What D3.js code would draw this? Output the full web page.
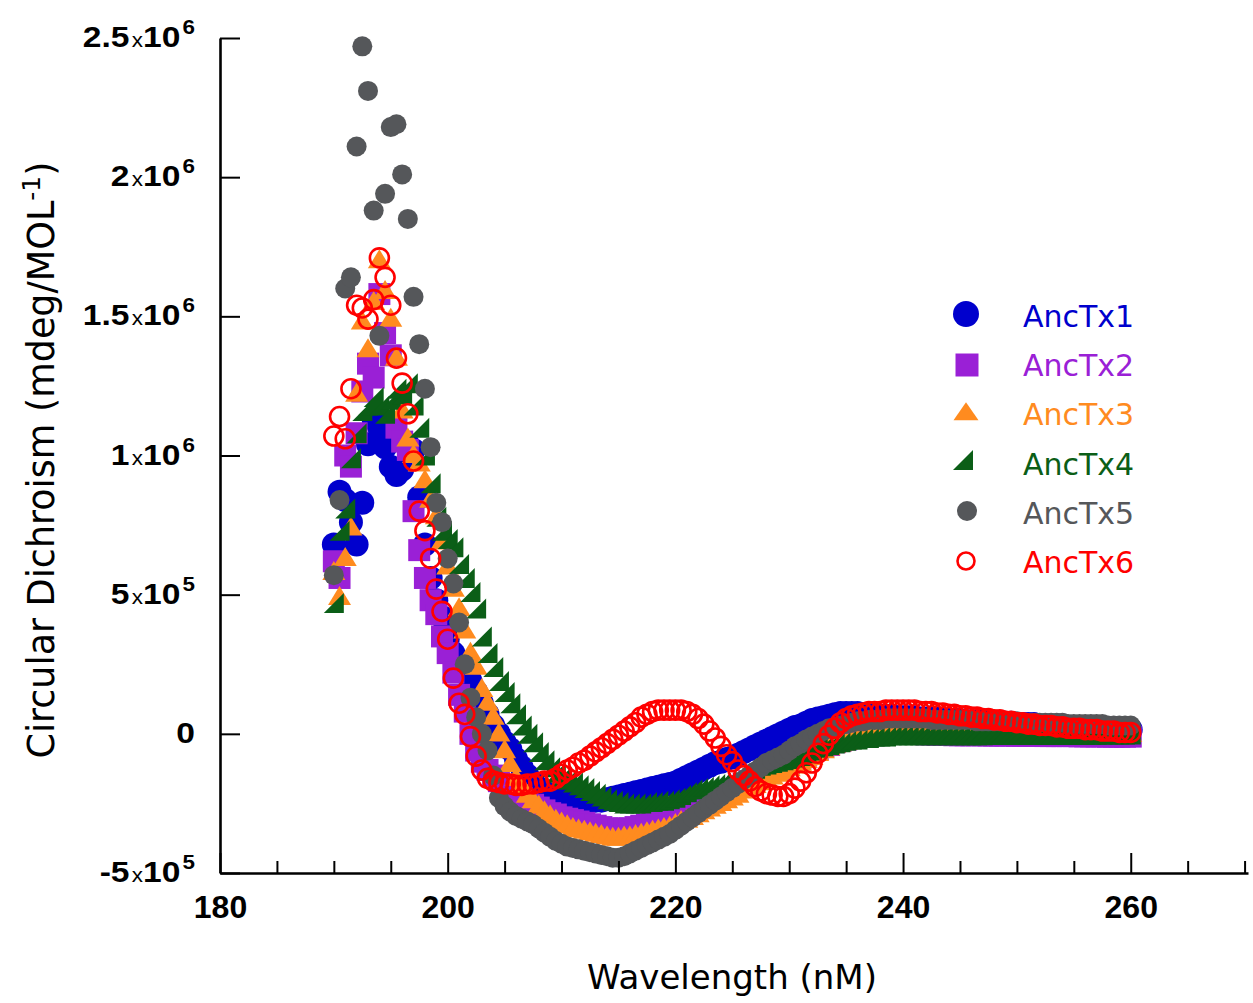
<!DOCTYPE html>
<html><head><meta charset="utf-8">
<script src="https://cdn.jsdelivr.net/npm/d3@7"></script>
<style>html,body{margin:0;padding:0;background:#fff;} svg{display:block;}</style>
</head><body>
<svg id="chart" width="1253" height="1003"></svg>
<script>
// Wavelength grid (nm)
const wavelengths = [
 190,190.5,191,191.5,192,192.5,193,193.5,194,194.5,
 195,195.5,196,196.5,197,197.5,198,198.5,199,199.5,
 200,200.5,201,201.5,202,202.5,203,203.5,204,204.5,
 205,205.5,206,206.5,207,207.5,208,208.5,209,209.5,
 210,210.5,211,211.5,212,212.5,213,213.5,214,214.5,
 215,215.5,216,216.5,217,217.5,218,218.5,219,219.5,
 220,220.5,221,221.5,222,222.5,223,223.5,224,224.5,
 225,225.5,226,226.5,227,227.5,228,228.5,229,229.5,
 230,230.5,231,231.5,232,232.5,233,233.5,234,234.5,
 235,235.5,236,236.5,237,237.5,238,238.5,239,239.5,
 240,240.5,241,241.5,242,242.5,243,243.5,244,244.5,
 245,245.5,246,246.5,247,247.5,248,248.5,249,249.5,
 250,250.5,251,251.5,252,252.5,253,253.5,254,254.5,
 255,255.5,256,256.5,257,257.5,258,258.5,259,259.5,
 260];

// Circular dichroism values, in units of 1e5 mdeg/MOL^-1
const ancTx1 = [
 6.8, 8.7, 8.4, 7.6, 6.8, 8.3, 10.4, 11.3, 11.0, 10.3,
 9.6, 9.3, 9.5, 10.4, 10.2, 8.5, 6.8, 5.6, 4.8, 4.2,
 3.4, 2.9, 2.6, 2.3, 1.9, 1.5, 1.1, 0.7, 0.3, 0.0,
 -0.3, -0.55, -0.9, -1.2, -1.5, -1.75, -1.95, -2.1, -2.2, -2.25,
 -2.3, -2.3, -2.35, -2.35, -2.4, -2.4, -2.4, -2.4, -2.35, -2.3,
 -2.25, -2.2, -2.15, -2.1, -2.05, -2.0, -1.95, -1.9, -1.85, -1.8,
 -1.75, -1.65, -1.55, -1.45, -1.35, -1.25, -1.15, -1.05, -1.0, -0.9,
 -0.85, -0.75, -0.65, -0.55, -0.45, -0.35, -0.25, -0.15, -0.05, 0.05,
 0.15, 0.25, 0.3, 0.4, 0.5, 0.55, 0.6, 0.65, 0.7, 0.75,
 0.75, 0.75, 0.75, 0.7, 0.7, 0.7, 0.65, 0.65, 0.65, 0.6,
 0.6, 0.6, 0.6, 0.55, 0.55, 0.55, 0.55, 0.5, 0.5, 0.5,
 0.5, 0.45, 0.45, 0.45, 0.45, 0.4, 0.4, 0.4, 0.4, 0.4,
 0.35, 0.35, 0.35, 0.35, 0.3, 0.3, 0.3, 0.3, 0.3, 0.25,
 0.25, 0.25, 0.25, 0.2, 0.2, 0.2, 0.2, 0.2, 0.15, 0.15,
 0.15];

const ancTx2 = [
 6.2, 5.6, 10.0, 9.6, 10.8, 12.3, 13.3, 12.8, 15.8, 14.4,
 13.6, 11.0, 10.5, 10.2, 8.0, 6.6, 5.6, 4.8, 4.3, 3.5,
 2.9, 2.2, 1.4, 0.8, 0.0, -0.6, -1.0, -1.3, -1.5, -1.7,
 -1.85, -2.0, -2.15, -2.3, -2.45, -2.55, -2.65, -2.75, -2.85, -2.9,
 -3.0, -3.05, -3.1, -3.15, -3.2, -3.25, -3.3, -3.35, -3.4, -3.4,
 -3.45, -3.4, -3.4, -3.35, -3.3, -3.25, -3.2, -3.1, -3.0, -2.95,
 -2.85, -2.75, -2.7, -2.6, -2.5, -2.4, -2.3, -2.2, -2.15, -2.05,
 -2.0, -1.9, -1.8, -1.7, -1.6, -1.5, -1.4, -1.3, -1.25, -1.15,
 -1.05, -0.95, -0.85, -0.75, -0.65, -0.55, -0.45, -0.4, -0.3, -0.25,
 -0.2, -0.15, -0.1, -0.08, -0.05, -0.05, -0.03, 0.0, 0.0, 0.0,
 0.0, 0.0, 0.0, 0.0, -0.02, -0.02, -0.03, -0.03, -0.03, -0.05,
 -0.05, -0.05, -0.05, -0.05, -0.05, -0.06, -0.06, -0.06, -0.06, -0.06,
 -0.07, -0.07, -0.07, -0.07, -0.07, -0.08, -0.08, -0.08, -0.08, -0.08,
 -0.08, -0.09, -0.09, -0.09, -0.09, -0.09, -0.1, -0.1, -0.1, -0.1,
 -0.1];

const ancTx3 = [
 5.8, 4.9, 6.3, 7.4, 12.2, 14.8, 13.8, 15.5, 17.0, 15.9,
 14.9, 13.5, 11.6, 10.6, 10.0, 9.7, 9.1, 8.4, 7.8, 6.9,
 6.0, 5.2, 4.5, 3.7, 2.9, 2.4, 1.6, 1.1, 0.6, 0.0,
 -0.6, -1.1, -1.6, -1.9, -2.2, -2.4, -2.6, -2.8, -2.95, -3.1,
 -3.2, -3.3, -3.4, -3.45, -3.5, -3.55, -3.6, -3.65, -3.7, -3.75,
 -3.75, -3.7, -3.7, -3.65, -3.6, -3.55, -3.5, -3.45, -3.4, -3.35,
 -3.25, -3.15, -3.1, -3.0, -2.9, -2.8, -2.7, -2.6, -2.5, -2.4,
 -2.3, -2.2, -2.05, -1.95, -1.85, -1.75, -1.65, -1.55, -1.45, -1.35,
 -1.25, -1.15, -1.05, -0.95, -0.85, -0.7, -0.6, -0.5, -0.4, -0.35,
 -0.3, -0.25, -0.2, -0.15, -0.1, -0.05, 0.0, 0.0, 0.02, 0.04,
 0.05, 0.05, 0.05, 0.05, 0.05, 0.05, 0.04, 0.04, 0.04, 0.04,
 0.03, 0.03, 0.03, 0.03, 0.03, 0.02, 0.02, 0.02, 0.02, 0.02,
 0.02, 0.01, 0.01, 0.01, 0.01, 0.01, 0.0, 0.0, 0.0, 0.0,
 0.0, 0.0, -0.01, -0.01, -0.01, -0.01, -0.02, -0.02, -0.02, -0.02,
 -0.02];

const ancTx4 = [
 4.7, 7.3, 8.1, 9.9, 10.8, 11.6, 11.8, 12.1, 11.8, 11.5,
 12.0, 12.4, 12.2, 12.6, 11.8, 11.0, 10.0, 9.0, 7.8, 7.3,
 7.0, 6.7, 6.1, 5.6, 5.1, 4.5, 3.5, 2.9, 2.4, 1.9,
 1.5, 1.1, 0.7, 0.3, 0.0, -0.3, -0.65, -0.95, -1.2, -1.4,
 -1.55, -1.65, -1.75, -1.85, -1.95, -2.05, -2.15, -2.25, -2.35, -2.4,
 -2.45, -2.5, -2.5, -2.5, -2.5, -2.45, -2.45, -2.4, -2.4, -2.35,
 -2.3, -2.2, -2.1, -2.0, -1.95, -1.9, -1.85, -1.8, -1.75, -1.7,
 -1.65, -1.55, -1.45, -1.35, -1.25, -1.15, -1.1, -1.05, -1.0, -0.95,
 -0.9, -0.85, -0.8, -0.7, -0.6, -0.5, -0.45, -0.4, -0.35, -0.3,
 -0.25, -0.2, -0.2, -0.15, -0.15, -0.1, -0.1, -0.1, -0.05, -0.05,
 -0.05, -0.05, -0.05, -0.05, -0.05, -0.05, -0.05, -0.05, -0.05, -0.05,
 -0.05, -0.05, -0.05, -0.05, -0.05, -0.04, -0.04, -0.04, -0.04, -0.04,
 -0.04, -0.04, -0.04, -0.04, -0.04, -0.03, -0.03, -0.03, -0.03, -0.03,
 -0.03, -0.03, -0.03, -0.03, -0.03, -0.02, -0.02, -0.02, -0.02, -0.02,
 -0.02];

const ancTx5 = [
 5.7, 8.4, 16.0, 16.4, 21.1, 24.7, 23.1, 18.8, 14.3, 19.4,
 21.8, 21.9, 20.1, 18.5, 15.7, 14.0, 12.4, 10.3, 8.3, 7.6,
 6.3, 5.4, 4.0, 2.5, 1.3, 0.6, 0.0, -0.6, -1.5, -2.3,
 -2.6, -2.8, -2.95, -3.05, -3.15, -3.25, -3.4, -3.55, -3.7, -3.85,
 -3.95, -4.05, -4.1, -4.15, -4.2, -4.25, -4.3, -4.35, -4.4, -4.45,
 -4.45, -4.4, -4.3, -4.2, -4.1, -4.0, -3.9, -3.8, -3.7, -3.6,
 -3.45, -3.3, -3.15, -3.0, -2.85, -2.7, -2.55, -2.4, -2.25, -2.1,
 -1.95, -1.8, -1.65, -1.5, -1.35, -1.2, -1.05, -0.95, -0.85, -0.75,
 -0.6, -0.45, -0.35, -0.2, -0.1, 0.0, 0.1, 0.2, 0.25, 0.3,
 0.35, 0.4, 0.45, 0.45, 0.5, 0.5, 0.5, 0.55, 0.55, 0.55,
 0.55, 0.55, 0.55, 0.55, 0.55, 0.5, 0.5, 0.5, 0.5, 0.5,
 0.5, 0.5, 0.5, 0.45, 0.45, 0.45, 0.45, 0.45, 0.45, 0.45,
 0.45, 0.4, 0.4, 0.4, 0.4, 0.4, 0.4, 0.4, 0.4, 0.35,
 0.35, 0.35, 0.35, 0.35, 0.35, 0.35, 0.3, 0.3, 0.3, 0.3,
 0.3];

const ancTx6 = [
 10.7, 11.4, 10.6, 12.4, 15.4, 15.3, 14.9, 15.6, 17.1, 16.4,
 15.4, 13.5, 12.6, 11.5, 9.8, 8.0, 7.3, 6.3, 5.2, 4.4,
 3.4, 2.0, 1.1, 0.7, -0.1, -0.8, -1.3, -1.6, -1.7, -1.75,
 -1.8, -1.8, -1.85, -1.85, -1.8, -1.8, -1.75, -1.7, -1.7, -1.6,
 -1.45, -1.3, -1.2, -1.05, -0.95, -0.8, -0.65, -0.5, -0.35, -0.2,
 -0.05, 0.1, 0.25, 0.4, 0.6, 0.7, 0.8, 0.85, 0.85, 0.85,
 0.85, 0.85, 0.8, 0.7, 0.55, 0.35, 0.1, -0.15, -0.45, -0.75,
 -1.0, -1.3, -1.5, -1.7, -1.9, -2.05, -2.15, -2.2, -2.25, -2.25,
 -2.15, -1.95, -1.7, -1.4, -1.05, -0.7, -0.35, -0.05, 0.2, 0.4,
 0.55, 0.65, 0.7, 0.75, 0.8, 0.8, 0.8, 0.85, 0.85, 0.85,
 0.85, 0.85, 0.85, 0.8, 0.8, 0.8, 0.75, 0.75, 0.7, 0.7,
 0.65, 0.65, 0.6, 0.6, 0.55, 0.55, 0.5, 0.5, 0.45, 0.45,
 0.4, 0.4, 0.35, 0.35, 0.3, 0.3, 0.3, 0.25, 0.25, 0.2,
 0.2, 0.2, 0.15, 0.15, 0.15, 0.1, 0.1, 0.1, 0.05, 0.05,
 0.05];

const seriesNames = ["AncTx1", "AncTx2", "AncTx3", "AncTx4", "AncTx5", "AncTx6"];
const seriesValues = [ancTx1, ancTx2, ancTx3, ancTx4, ancTx5, ancTx6];
const valueUnit = 1e5;

// Axis ticks
const xMajorTicks = [180, 200, 220, 240, 260];
const xMinorTicks = [185, 190, 195, 205, 210, 215, 225, 230, 235, 245, 250, 255, 265, 270];
const yTickValues = [-5e5, 0, 5e5, 1e6, 1.5e6, 2e6, 2.5e6];
const yTickMantissa = ["-5", "0", "5", "1", "1.5", "2", "2.5"];
const yTickExponent = ["5", "", "5", "6", "6", "6", "6"];

// ---------- styling ----------
const colors = ["#0000cd", "#9a20d6", "#ff8b1f", "#0b5e17", "#55575a", "#ff0000"];
const shapes = [
  {type: "circle", r: 12, fill: true},
  {type: "square", s: 22, fill: true},
  {type: "triangle", w: 23, h: 19, fill: true},
  {type: "rtri", s: 20, fill: true},
  {type: "circle", r: 10, fill: true},
  {type: "circle", r: 9.5, fill: false, sw: 2.6}
];
const legendShapes = [
  {type: "circle", r: 13, fill: true},
  {type: "square", s: 23, fill: true},
  {type: "triangle", w: 25, h: 18, fill: true},
  {type: "rtri", s: 20, fill: true},
  {type: "circle", r: 10, fill: true},
  {type: "circle", r: 8.5, fill: false, sw: 2.6}
];

function shapePath(sh) {
  if (sh.type === "circle") {
    const r = sh.r;
    return `M${-r},0A${r},${r} 0 1,0 ${r},0A${r},${r} 0 1,0 ${-r},0Z`;
  }
  if (sh.type === "square") {
    const h = sh.s / 2;
    return `M${-h},${-h}H${h}V${h}H${-h}Z`;
  }
  if (sh.type === "triangle") {
    const w = sh.w / 2, h = sh.h;
    return `M0,${-h * 0.6}L${w},${h * 0.4}L${-w},${h * 0.4}Z`;
  }
  if (sh.type === "rtri") {
    const h = sh.s / 2;
    return `M${-h},${h}L${h},${-h}L${h},${h}Z`;
  }
}

const svg = d3.select("#chart");
svg.append("rect").attr("width", 1253).attr("height", 1003).attr("fill", "#fff");

const x = d3.scaleLinear().domain([180, 270.3]).range([220, 1248]);
const y = d3.scaleLinear().domain([-5e5, 2.5e6]).range([873, 38]);

// ---------- data marks ----------
seriesValues.forEach((vals, si) => {
  const sh = shapes[si];
  const d = shapePath(sh);
  const pts = vals.map((v, i) => ({w: wavelengths[i], v: v * valueUnit}))
                  .filter(p => p.w !== undefined);
  svg.append("g").attr("class", "series s" + si)
    .selectAll("path").data(pts).join("path")
    .attr("d", d)
    .attr("transform", p => `translate(${x(p.w)},${y(p.v)})`)
    .attr("fill", sh.fill ? colors[si] : "none")
    .attr("stroke", sh.fill ? "none" : colors[si])
    .attr("stroke-width", sh.fill ? 0 : sh.sw);
});

// ---------- axes ----------
const axisFont = "'Liberation Sans', Arial, sans-serif";

const gYAxis = svg.append("g").attr("transform", "translate(220,0)")
  .call(d3.axisLeft(y).tickValues(yTickValues).tickSizeInner(-20).tickSizeOuter(0).tickFormat(""));
gYAxis.select(".domain").attr("stroke", "#000").attr("stroke-width", 2.6);
gYAxis.selectAll(".tick line").attr("stroke", "#000").attr("stroke-width", 2);

const gXMinor = svg.append("g").attr("transform", "translate(0,873)")
  .call(d3.axisBottom(x).tickValues(xMinorTicks).tickSizeInner(-12).tickSizeOuter(0).tickFormat(""));
gXMinor.select(".domain").remove();
gXMinor.selectAll(".tick line").attr("stroke", "#000").attr("stroke-width", 2);

const gXAxis = svg.append("g").attr("transform", "translate(0,873)")
  .call(d3.axisBottom(x).tickValues(xMajorTicks).tickSizeInner(-20).tickSizeOuter(0).tickFormat(d3.format("d")));
gXAxis.select(".domain").attr("stroke", "#000").attr("stroke-width", 2.6);
gXAxis.selectAll(".tick line").attr("stroke", "#000").attr("stroke-width", 2);
gXAxis.selectAll(".tick text")
  .attr("y", 45).attr("dy", null)
  .attr("font-family", axisFont).attr("font-weight", "bold").attr("font-size", 32)
  .attr("fill", "#000");

// y tick labels as mantissa x 10^exponent
const yLab = svg.append("g").attr("font-family", axisFont).attr("fill", "#000");
yTickValues.forEach((v, i) => {
  const t = yLab.append("text")
    .attr("transform", `translate(195,${y(v) + 9}) scale(1.12,1)`)
    .attr("text-anchor", "end");
  t.append("tspan").attr("font-size", 30).attr("font-weight", "bold").text(yTickMantissa[i]);
  if (yTickExponent[i]) {
    t.append("tspan").attr("font-size", 20).attr("font-weight", "normal").attr("dx", 2).text("x");
    t.append("tspan").attr("font-size", 30).attr("font-weight", "bold").text("10");
    t.append("tspan").attr("font-size", 20).attr("font-weight", "bold").attr("dx", 2).attr("dy", -13).text(yTickExponent[i]);
  }
});

// axis titles
svg.append("text")
  .attr("x", 732).attr("y", 989).attr("text-anchor", "middle")
  .attr("font-family", "'DejaVu Sans', sans-serif").attr("font-size", 34).attr("fill", "#000")
  .text("Wavelength (nM)");

const yt = svg.append("text")
  .attr("transform", "translate(54,460) rotate(-90)")
  .attr("text-anchor", "middle")
  .attr("font-family", "'DejaVu Sans', sans-serif").attr("font-size", 36.5).attr("fill", "#000");
yt.append("tspan").text("Circular Dichroism (mdeg/MOL");
yt.append("tspan").attr("font-size", 25).attr("dy", -14).text("-1");
yt.append("tspan").attr("dy", 14).text(")");

// ---------- legend ----------
const legendMarkerX = [966, 967, 966, 963, 967, 966];
const legendMarkerY = [314, 365, 413, 460, 511, 561];
const legendTextY = [327, 376, 425, 475, 524, 573];
const lg = svg.append("g");
seriesNames.forEach((name, i) => {
  const sh = legendShapes[i];
  lg.append("path")
    .attr("d", shapePath(sh))
    .attr("transform", `translate(${legendMarkerX[i]},${legendMarkerY[i]})`)
    .attr("fill", sh.fill ? colors[i] : "none")
    .attr("stroke", sh.fill ? "none" : colors[i])
    .attr("stroke-width", sh.fill ? 0 : sh.sw);
  lg.append("text")
    .attr("x", 1023).attr("y", legendTextY[i])
    .attr("font-family", "'DejaVu Sans', sans-serif").attr("font-size", 30)
    .attr("fill", colors[i])
    .text(name);
});
</script>
</body></html>
